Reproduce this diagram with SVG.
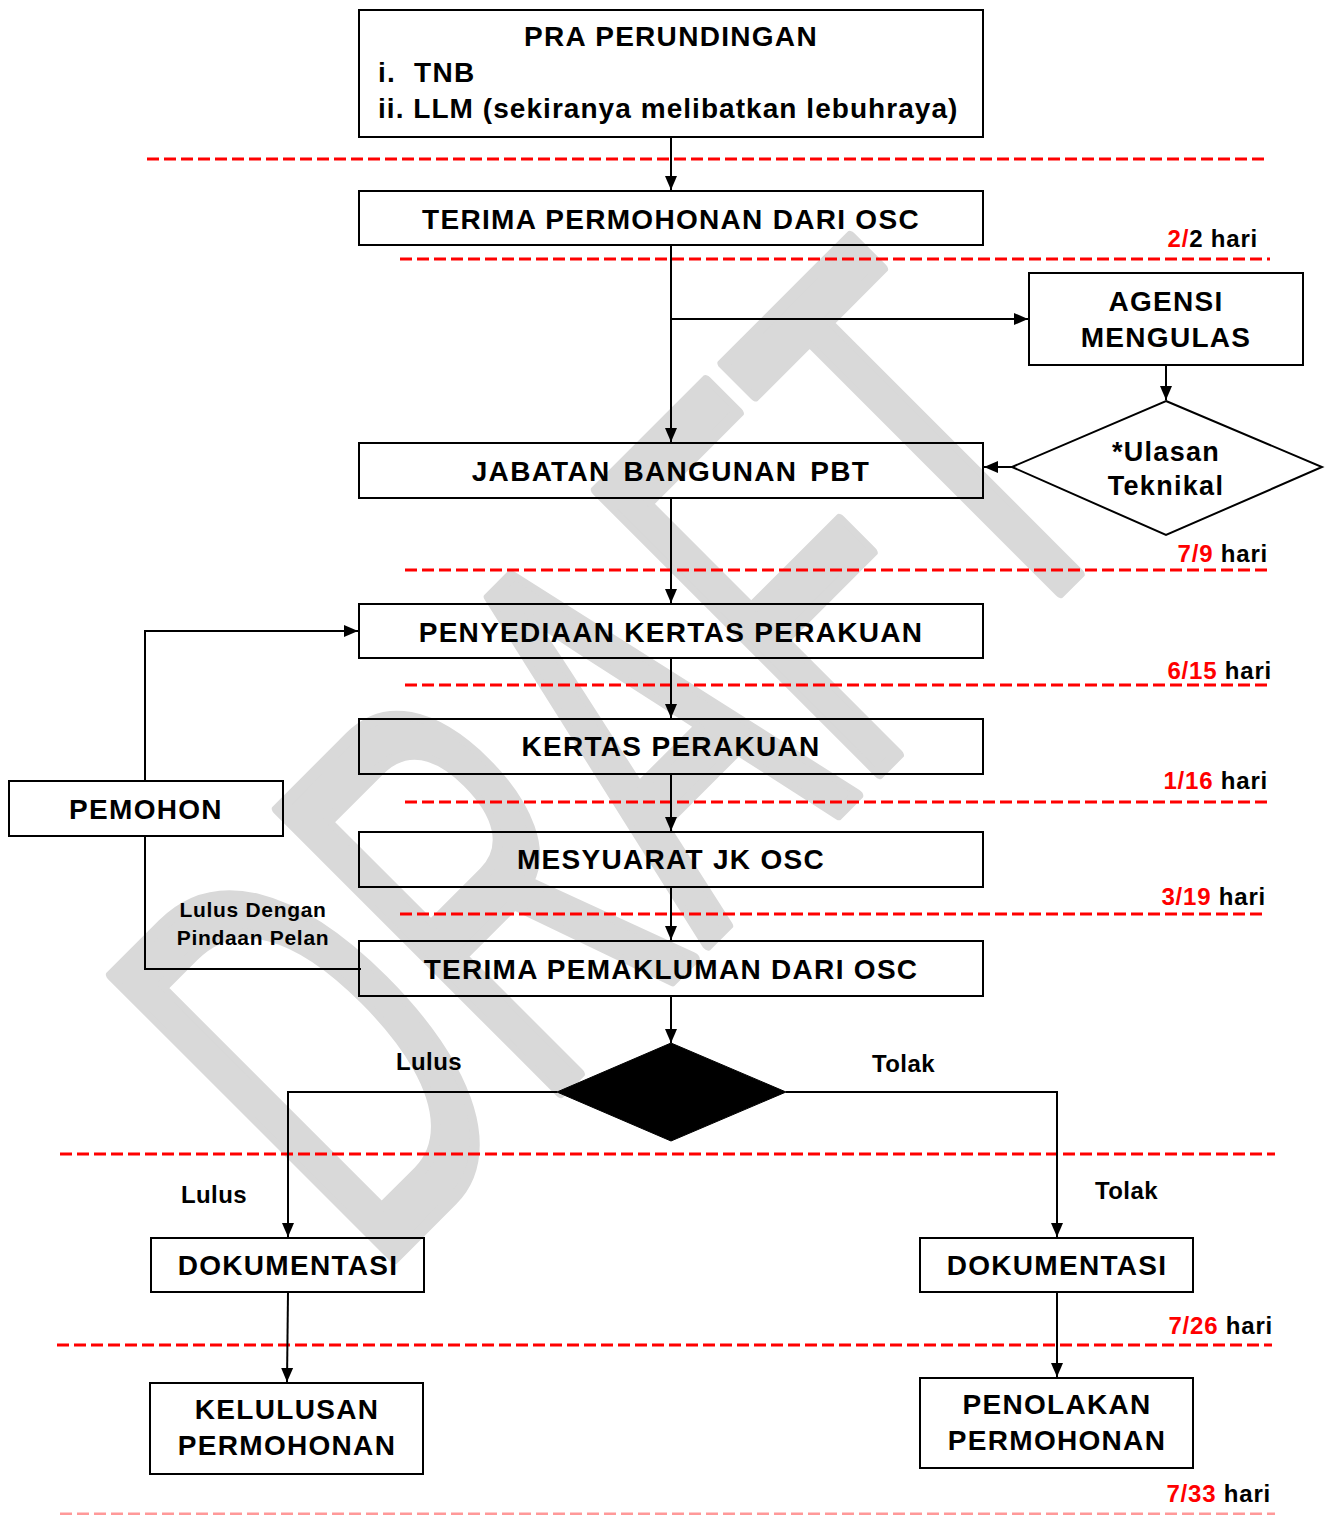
<svg xmlns="http://www.w3.org/2000/svg" width="1330" height="1515" viewBox="0 0 1330 1515">
<defs>
<marker id="arr" markerUnits="userSpaceOnUse" markerWidth="14" markerHeight="14" viewBox="0 0 14 14" refX="14" refY="7" orient="auto">
<path d="M0,1 L14,7 L0,13 Z" fill="#000"/>
</marker>
<style>
.box{fill:none;stroke:#000;stroke-width:2}
.t{font-family:"Liberation Sans",Arial,sans-serif;font-weight:bold;font-size:28px;fill:#000;text-anchor:middle;letter-spacing:1.3px}
.s{font-family:"Liberation Sans",Arial,sans-serif;font-weight:bold;font-size:24px;fill:#000;letter-spacing:0.4px}
.lbl{font-family:"Liberation Sans",Arial,sans-serif;font-weight:bold;font-size:21px;fill:#000;text-anchor:middle;letter-spacing:0.7px}
.day{font-family:"Liberation Sans",Arial,sans-serif;font-weight:bold;font-size:24px;fill:#000;text-anchor:end;letter-spacing:0.8px}
.red{fill:#ff0000}
.dash{stroke:#ff0000;stroke-width:3;stroke-dasharray:12 5;fill:none}
.ln{stroke:#000;stroke-width:2;fill:none}
.wm{font-family:"Liberation Sans",Arial,sans-serif;font-size:580px;fill:#d9d9d9;stroke:#d9d9d9;stroke-width:12;stroke-linejoin:round}
</style>
</defs>
<rect width="1330" height="1515" fill="#fff"/>
<g id="watermark">
<text class="wm" transform="translate(374,1278) rotate(-45) scale(0.56,1)">DRAFT</text>
</g>
<g id="separators">
<line class="dash" x1="147" y1="159" x2="1267" y2="159"/>
<line class="dash" x1="400" y1="259" x2="1270" y2="259"/>
<line class="dash" x1="405" y1="570" x2="1272" y2="570"/>
<line class="dash" x1="405" y1="685" x2="1272" y2="685"/>
<line class="dash" x1="405" y1="802" x2="1272" y2="802"/>
<line class="dash" x1="400" y1="914" x2="1266" y2="914"/>
<line class="dash" x1="60" y1="1154" x2="1275" y2="1154"/>
<line class="dash" x1="57" y1="1345" x2="1272" y2="1345"/>
<line class="dash" x1="60" y1="1514" x2="1275" y2="1514" opacity="0.4"/>
</g>
<g id="days">
<text class="day" x="1258" y="247"><tspan class="red">2/</tspan>2 hari</text>
<text class="day" x="1268" y="562"><tspan class="red">7/9</tspan> hari</text>
<text class="day" x="1272" y="679"><tspan class="red">6/15</tspan> hari</text>
<text class="day" x="1268" y="789"><tspan class="red">1/16</tspan> hari</text>
<text class="day" x="1266" y="905"><tspan class="red">3/19</tspan> hari</text>
<text class="day" x="1273" y="1334"><tspan class="red">7/26</tspan> hari</text>
<text class="day" x="1271" y="1502"><tspan class="red">7/33</tspan> hari</text>
</g>
<g id="connectors">
<line class="ln" x1="671" y1="137" x2="671" y2="190" marker-end="url(#arr)"/>
<line class="ln" x1="671" y1="245" x2="671" y2="442" marker-end="url(#arr)"/>
<line class="ln" x1="671" y1="319" x2="1028" y2="319" marker-end="url(#arr)"/>
<line class="ln" x1="1166" y1="365" x2="1166" y2="400" marker-end="url(#arr)"/>
<line class="ln" x1="1012" y1="467" x2="984" y2="467" marker-end="url(#arr)"/>
<line class="ln" x1="671" y1="498" x2="671" y2="603" marker-end="url(#arr)"/>
<line class="ln" x1="671" y1="658" x2="671" y2="718" marker-end="url(#arr)"/>
<line class="ln" x1="671" y1="774" x2="671" y2="831" marker-end="url(#arr)"/>
<line class="ln" x1="671" y1="887" x2="671" y2="940" marker-end="url(#arr)"/>
<polyline class="ln" points="145,781 145,631 358,631" marker-end="url(#arr)"/>
<polyline class="ln" points="361,969 145,969 145,836"/>
<line class="ln" x1="671" y1="996" x2="671" y2="1043" marker-end="url(#arr)"/>
<polyline class="ln" points="557,1092 288,1092 288,1237" marker-end="url(#arr)"/>
<polyline class="ln" points="786,1092 1057,1092 1057,1237" marker-end="url(#arr)"/>
<line class="ln" x1="288" y1="1292" x2="287" y2="1382" marker-end="url(#arr)"/>
<line class="ln" x1="1057" y1="1292" x2="1057" y2="1377" marker-end="url(#arr)"/>
<text class="lbl" x="253" y="917">Lulus Dengan</text>
<text class="lbl" x="253" y="945">Pindaan Pelan</text>
<text class="s" x="396" y="1070">Lulus</text>
<text class="s" x="872" y="1072">Tolak</text>
<text class="s" x="181" y="1203">Lulus</text>
<text class="s" x="1095" y="1199">Tolak</text>
</g>
<g id="pra">
<rect class="box" x="359" y="10" width="624" height="127"/>
<text class="t" x="671" y="46">PRA PERUNDINGAN</text>
<text class="t" y="82" style="text-anchor:start"><tspan x="378">i.</tspan><tspan x="414">TNB</tspan></text>
<text class="t" x="378" y="118" style="text-anchor:start;letter-spacing:1.05px">ii. LLM (sekiranya melibatkan lebuhraya)</text>
</g>
<g id="terima-permohonan">
<rect class="box" x="359" y="191" width="624" height="54"/>
<text class="t" x="671" y="229">TERIMA PERMOHONAN DARI OSC</text>
</g>
<g id="agensi">
<rect class="box" x="1029" y="273" width="274" height="92"/>
<text class="t" x="1166" y="311">AGENSI</text>
<text class="t" x="1166" y="347">MENGULAS</text>
</g>
<g id="ulasan">
<polygon class="box" points="1166,401 1322,467 1166,535 1012,467"/>
<text class="t" x="1166" y="461" style="font-size:27px">*Ulasan</text>
<text class="t" x="1166" y="495" style="font-size:27px">Teknikal</text>
</g>
<g id="jabatan">
<rect class="box" x="359" y="443" width="624" height="55"/>
<text class="t" x="671" y="481" word-spacing="4">JABATAN BANGUNAN PBT</text>
</g>
<g id="penyediaan">
<rect class="box" x="359" y="604" width="624" height="54"/>
<text class="t" x="671" y="642">PENYEDIAAN KERTAS PERAKUAN</text>
</g>
<g id="kertas">
<rect class="box" x="359" y="719" width="624" height="55"/>
<text class="t" x="671" y="756">KERTAS PERAKUAN</text>
</g>
<g id="mesyuarat">
<rect class="box" x="359" y="832" width="624" height="55"/>
<text class="t" x="671" y="869">MESYUARAT JK OSC</text>
</g>
<g id="terima-pemakluman">
<rect class="box" x="359" y="941" width="624" height="55"/>
<text class="t" x="671" y="979">TERIMA PEMAKLUMAN DARI OSC</text>
</g>
<g id="pemohon">
<rect class="box" x="9" y="781" width="274" height="55"/>
<text class="t" x="146" y="819">PEMOHON</text>
</g>
<g id="keputusan">
<polygon points="671,1043 786,1092 671,1141 557,1092" fill="#000" stroke="#000" stroke-width="1"/>
</g>
<g id="dokumentasi-lulus">
<rect class="box" x="151" y="1238" width="273" height="54"/>
<text class="t" x="288" y="1275">DOKUMENTASI</text>
</g>
<g id="dokumentasi-tolak">
<rect class="box" x="920" y="1238" width="273" height="54"/>
<text class="t" x="1057" y="1275">DOKUMENTASI</text>
</g>
<g id="kelulusan">
<rect class="box" x="150" y="1383" width="273" height="91"/>
<text class="t" x="287" y="1419">KELULUSAN</text>
<text class="t" x="287" y="1455">PERMOHONAN</text>
</g>
<g id="penolakan">
<rect class="box" x="920" y="1378" width="273" height="90"/>
<text class="t" x="1057" y="1414">PENOLAKAN</text>
<text class="t" x="1057" y="1450">PERMOHONAN</text>
</g>
</svg>
